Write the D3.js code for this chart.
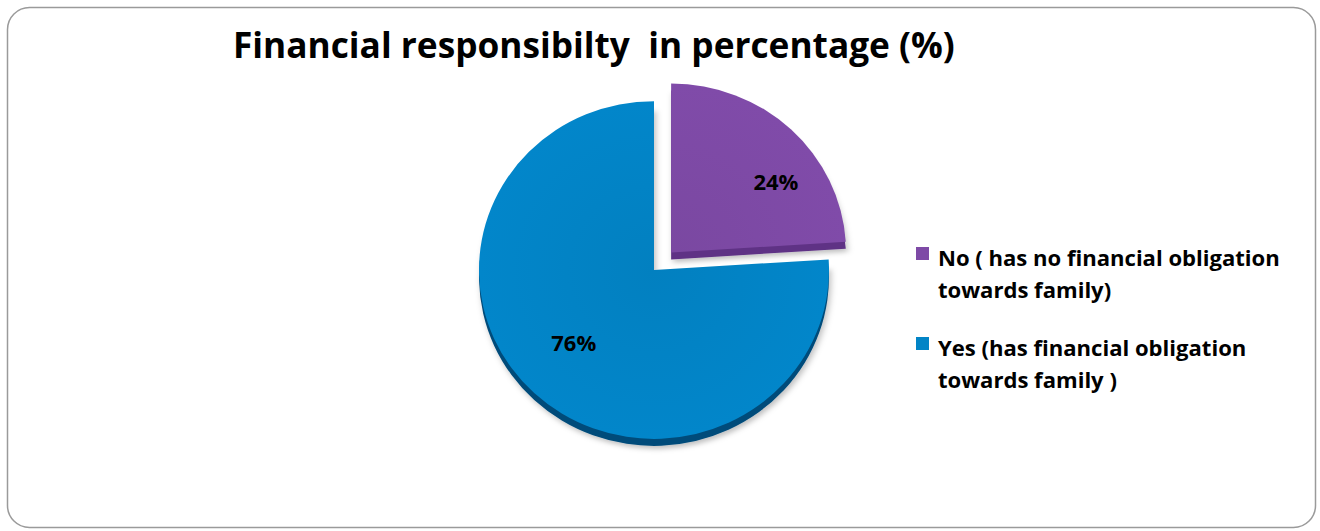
<!DOCTYPE html>
<html><head><meta charset="utf-8">
<script src="https://cdn.jsdelivr.net/npm/d3@7"></script>
<style>body{margin:0;background:#fff}svg{display:block}</style>
</head><body>
<svg id="c" width="1320" height="531"></svg>
<script>
const title = "Financial responsibilty  in percentage (%)";
const categories = ["No ( has no financial obligation towards family)", "Yes (has financial obligation towards family )"];
const legendLines = [["No ( has no financial obligation", "towards family)"], ["Yes (has financial obligation", "towards family )"]];
const values = [24, 76];
const labels = ["24%", "76%"];
const colors = ["#7E4AA6", "#0284C6"];
const sideColors = ["#5F3385", "#004C7A"];

const svg = d3.select("#c");
const font = "'Open Sans', Lato, sans-serif";

// border
svg.append("rect").attr("x", 7.5).attr("y", 7.5).attr("width", 1308).attr("height", 520)
  .attr("rx", 22).attr("fill", "#fff").attr("stroke", "#9a9a9a").attr("stroke-width", 1.5);

// title
const t = svg.append("text").attr("x", 233).attr("y", 58).attr("font-family", font)
  .attr("font-weight", "bold").attr("font-size", 36).attr("fill", "#000")
  .attr("xml:space", "preserve").style("white-space", "pre").text(title);
const tw = t.node().getComputedTextLength();
t.attr("font-size", 36 * 722 / tw);

// pie
const cx = 654, cy = 270, r = 175, sy = 0.965, depth = 7, explode = 25;
const pie = d3.pie().sort(null).value(d => d)(values);
const arc = d3.arc().innerRadius(0).outerRadius(r);

const defs = svg.append("defs");
defs.append("filter").attr("id", "sh").attr("x", "-20%").attr("y", "-20%").attr("width", "140%").attr("height", "140%")
  .append("feDropShadow").attr("dx", 2).attr("dy", 3).attr("stdDeviation", 3).attr("flood-color", "#000").attr("flood-opacity", 0.25);

pie.forEach((p, i) => {
  const g0 = defs.append("radialGradient").attr("id", "g" + i).attr("gradientUnits", "userSpaceOnUse")
    .attr("cx", 0).attr("cy", 0).attr("r", r);
  const base = d3.color(colors[i]);
  g0.append("stop").attr("offset", "0%").attr("stop-color", base.darker(0.08));
  g0.append("stop").attr("offset", "100%").attr("stop-color", base.brighter(0.05));
});

const labelMul = [[1.75, 1.16], [1.34, 1.17]];
const slices = svg.append("g");
pie.forEach((p, i) => {
  const mid = (p.startAngle + p.endAngle) / 2;
  const off = i === 0 ? explode : 0;
  const ox = cx + off * Math.sin(mid), oy = cy - off * Math.cos(mid) * sy;
  const g = slices.append("g").attr("transform", `translate(${ox},${oy}) scale(1,${sy})`);
  g.append("path").attr("d", arc(p)).attr("transform", `translate(0,${depth / sy})`)
    .attr("fill", sideColors[i]).attr("filter", "url(#sh)");
  g.append("path").attr("d", arc(p)).attr("fill", `url(#g${i})`);
  const c = arc.centroid(p);
  svg.append("text").attr("x", ox + c[0] * labelMul[i][0]).attr("y", oy + c[1] * labelMul[i][1] * sy)
    .attr("text-anchor", "middle").attr("dominant-baseline", "central").attr("font-family", font)
    .attr("font-weight", "bold").attr("font-size", 22).attr("fill", "#000").text(labels[i]);
});

// legend
const leg = svg.append("g");
let fs = 21;
legendLines.forEach((lines, i) => {
  const y0 = 247 + i * 90;
  leg.append("rect").attr("x", 916).attr("y", y0).attr("width", 13).attr("height", 13).attr("fill", colors[i]);
  lines.forEach((ln, j) => {
    leg.append("text").attr("class", "lt").attr("x", 938).attr("y", y0 + 19 + j * 32).attr("font-family", font)
      .attr("font-weight", "bold").attr("font-size", fs).attr("fill", "#000")
      .attr("xml:space", "preserve").text(ln);
  });
});
const first = leg.select("text.lt").node().getComputedTextLength();
leg.selectAll("text.lt").attr("font-size", fs * 342 / first);
</script>
</body></html>
